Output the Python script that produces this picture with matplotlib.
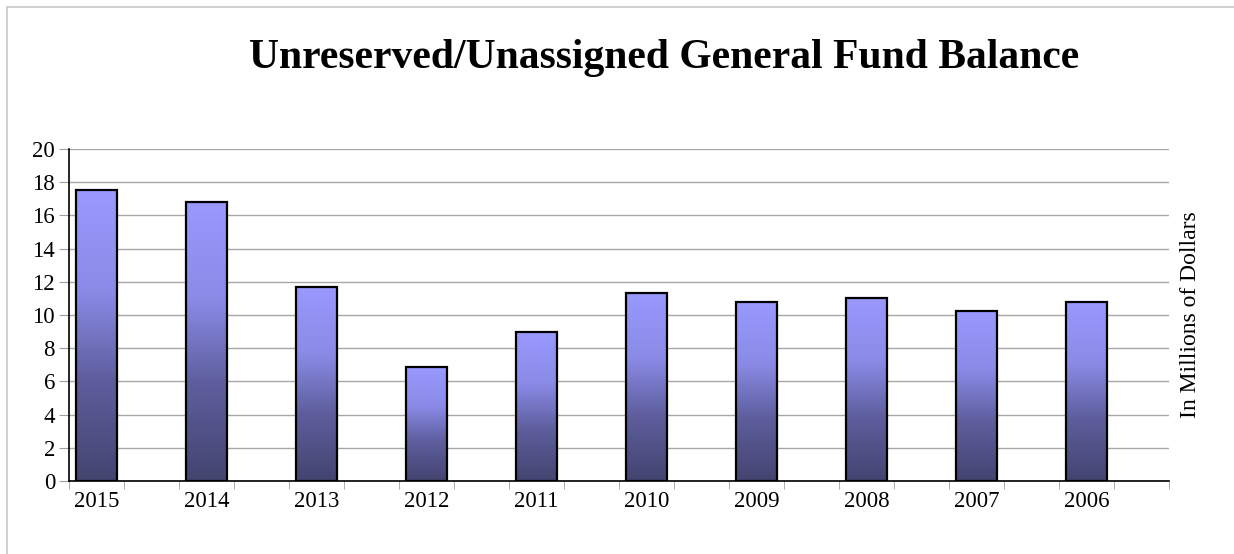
import matplotlib.pyplot as plt
import numpy as np
from matplotlib.colors import LinearSegmentedColormap
from matplotlib.patches import Rectangle

plt.rcParams['font.family'] = ['Liberation Serif', 'DejaVu Serif']

years = ['2015', '2014', '2013', '2012', '2011', '2010', '2009', '2008', '2007', '2006']
balance = [17.5, 16.8, 11.7, 6.85, 8.95, 11.3, 10.8, 11.05, 10.25, 10.8]

fig = plt.figure(figsize=(12.34, 5.54), dpi=100)
ax = fig.add_axes([0.0559, 0.1318, 0.8914, 0.5993])

# each year takes two slots; the bar sits in the first one
x = np.arange(len(years))
width = 0.38
bars = ax.bar(x, balance, width=width, color='none', edgecolor='black',
              linewidth=1.6, zorder=3)

# vertical gradient inside every bar, light at the top, dark at the bottom
grad = LinearSegmentedColormap.from_list(
    'fund', [(0.0, '#444470'), (0.35, '#5e5e9e'), (0.65, '#8a8ae6'), (1.0, '#9999ff')])
g = np.linspace(0, 1, 256).reshape(-1, 1)
for b in bars:
    x0, y0 = b.get_x(), b.get_y()
    im = ax.imshow(g, cmap=grad, origin='lower', aspect='auto',
                   extent=[x0, x0 + b.get_width(), y0, y0 + b.get_height()],
                   zorder=2)
    im.set_clip_path(b)

ax.set_xlim(-0.25, len(years) - 0.25)
ax.set_ylim(0, 20)
ax.set_yticks(np.arange(0, 21, 2))
ax.set_xticks(x)
ax.set_xticklabels(years)
ax.set_xticks(np.arange(-0.25, len(years) - 0.2, 0.5), minor=True)
ax.tick_params(axis='x', which='major', length=0, pad=7, labelsize=16.5)
ax.tick_params(axis='x', which='minor', length=6, color='#a0a0a0', direction='out')
ax.tick_params(axis='y', length=7, color='#a0a0a0', labelsize=16.5, pad=3)
ax.yaxis.grid(True, color='#a8a8a8', linewidth=1.0, zorder=0)
ax.set_axisbelow(True)

for side in ('top', 'right'):
    ax.spines[side].set_visible(False)
for side in ('left', 'bottom'):
    ax.spines[side].set_color('black')
    ax.spines[side].set_linewidth(1.2)

ax.yaxis.set_label_position('right')
ax.set_ylabel('In Millions of Dollars', fontsize=17, labelpad=8)

fig.text(0.538, 0.895, 'Unreserved/Unassigned General Fund Balance',
         ha='center', va='center', fontsize=30, fontweight='bold')

# thin frame round the chart area
fig.patches.append(Rectangle((7 / 1234, -0.1), 1.2, 1 - 7 / 554 + 0.1,
                             transform=fig.transFigure, fill=False,
                             edgecolor='#c8c8c8', linewidth=1.2))

fig.savefig('out.png', dpi=100)
